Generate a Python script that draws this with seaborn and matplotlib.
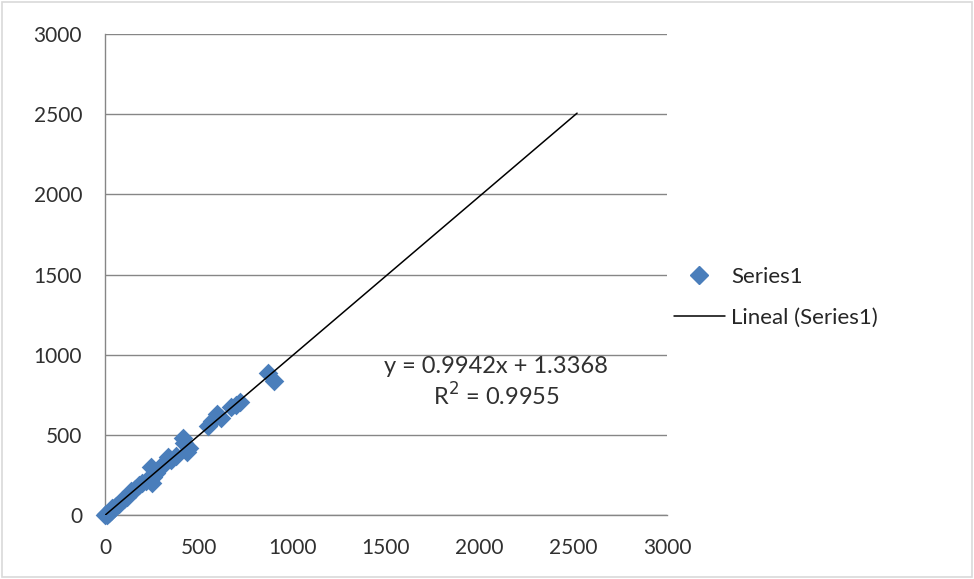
import matplotlib
matplotlib.use("Agg")
import matplotlib.pyplot as plt
import seaborn as sns
import pandas as pd
from matplotlib.lines import Line2D
from matplotlib.patches import Rectangle

# Observed pairs
x_vals = [0, 5, 10, 15, 20, 30, 40, 50, 60, 75, 90, 100, 120, 140, 160, 180,
          200, 220, 245, 250, 255, 270, 300, 320, 335, 350, 380, 415, 420, 440,
          450, 550, 570, 600, 620, 670, 700, 720, 870, 900]
y_vals = [0, 8, 5, 18, 15, 28, 45, 48, 62, 70, 95, 105, 115, 150, 165, 190,
          205, 215, 300, 200, 240, 265, 310, 330, 362, 345, 370, 480, 450, 395,
          420, 560, 590, 630, 610, 675, 690, 705, 890, 840]

# Linear trend line
slope = 0.9942
intercept = 1.3368
r_squared = 0.9955
trend_x = [0, 2520]

tick_vals = [0, 500, 1000, 1500, 2000, 2500, 3000]

sns.set_style("white")
plt.rcParams["font.family"] = ["Lato", "DejaVu Sans"]

fig = plt.figure(figsize=(9.74, 5.79), dpi=100)
ax = fig.add_axes([0.1078, 0.1097, 0.577, 0.8316])

grey = "#868686"
text_col = "#303030"
blue = "#4A7EBB"

df = pd.DataFrame({"x": x_vals, "y": y_vals})
sns.scatterplot(data=df, x="x", y="y", marker="D", s=100, color=blue,
                edgecolor=blue, linewidth=0, ax=ax, legend=False, zorder=3,
                clip_on=False)

trend = pd.DataFrame({"x": trend_x,
                      "y": [slope * v + intercept for v in trend_x]})
sns.lineplot(data=trend, x="x", y="y", color="black", linewidth=1.1, ax=ax,
             legend=False, zorder=4)

ax.set_xlim(0, 3000)
ax.set_ylim(0, 3000)
ax.set_xticks(tick_vals)
ax.set_yticks(tick_vals)
ax.set_xlabel("")
ax.set_ylabel("")
ax.grid(axis="y", color=grey, linewidth=1.0)
ax.grid(axis="x", visible=False)
ax.set_axisbelow(True)
for side in ["top", "right"]:
    ax.spines[side].set_visible(False)
for side in ["left", "bottom"]:
    ax.spines[side].set_color(grey)
    ax.spines[side].set_linewidth(1.0)
ax.tick_params(axis="x", length=5.5, width=1, color=grey, direction="out",
               labelsize=15, pad=11, labelcolor=text_col)
ax.tick_params(axis="y", length=8.5, width=1, color=grey, direction="out",
               labelsize=15, pad=8, labelcolor=text_col)
ax.margins(0)

ax.text(2088, 930, f"y = {slope}x + {intercept}", fontsize=17, ha="center",
        va="center", color=text_col)
ax.text(2088, 745, f"R$^2$ = {r_squared}", fontsize=17, ha="center",
        va="center", color=text_col)

handles = [
    Line2D([], [], marker="D", linestyle="none", color=blue, markersize=9),
    Line2D([], [], color="black", linewidth=1.1),
]
fig.legend(handles, ["Series1", "Lineal (Series1)"], loc="center left",
           bbox_to_anchor=(0.671, 0.486), frameon=False, fontsize=16,
           handlelength=2.3, handletextpad=0.3, labelspacing=0.95)

fig.add_artist(Rectangle((0.002, 0.003), 0.996, 0.994, transform=fig.transFigure,
                         fill=False, edgecolor="#D9D9D9", linewidth=1.2))

fig.savefig("out.png", dpi=100)
